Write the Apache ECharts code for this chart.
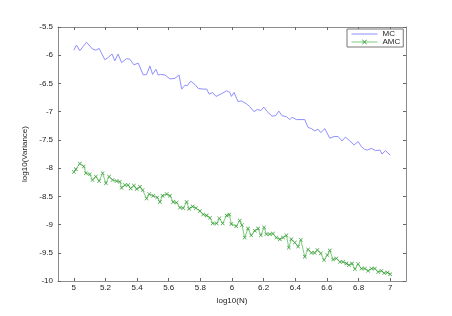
<!DOCTYPE html>
<html><head><meta charset="utf-8">
<script src="https://cdn.jsdelivr.net/npm/echarts@6/dist/echarts.min.js"></script>
<style>html,body{margin:0;padding:0;background:#fff}#c{width:452px;height:316px}</style>
</head><body><div id="c"></div>
<script>
var seriesNames = ['MC', 'AMC'];
var xTicks = [5, 5.2, 5.4, 5.6, 5.8, 6, 6.2, 6.4, 6.6, 6.8, 7];
var yTicks = [-10, -9.5, -9, -8.5, -8, -7.5, -7, -6.5, -6, -5.5];
var mcN = [5.000,5.017,5.038,5.080,5.118,5.139,5.160,5.196,5.217,5.242,5.259,5.280,5.302,5.334,5.354,5.380,5.407,5.439,5.460,5.481,5.498,5.519,5.534,5.549,5.576,5.608,5.639,5.665,5.682,5.703,5.717,5.739,5.766,5.787,5.818,5.840,5.856,5.878,5.899,5.935,5.966,5.987,5.996,6.013,6.038,6.059,6.091,6.112,6.139,6.160,6.182,6.201,6.223,6.253,6.277,6.296,6.316,6.344,6.365,6.380,6.407,6.460,6.481,6.502,6.523,6.544,6.561,6.587,6.597,6.618,6.646,6.671,6.696,6.717,6.745,6.772,6.797,6.818,6.840,6.856,6.882,6.907,6.935,6.949,6.970,7.000];
var mcVar = [-5.91,-5.82,-5.92,-5.77,-5.89,-5.91,-5.88,-6.08,-6.04,-5.98,-6.10,-5.98,-6.13,-6.06,-6.07,-6.17,-6.14,-6.35,-6.34,-6.19,-6.34,-6.25,-6.35,-6.34,-6.35,-6.42,-6.41,-6.35,-6.60,-6.53,-6.54,-6.46,-6.52,-6.59,-6.60,-6.60,-6.69,-6.66,-6.73,-6.68,-6.63,-6.66,-6.73,-6.66,-6.82,-6.81,-6.86,-6.91,-7.00,-6.96,-6.98,-6.92,-7.00,-7.08,-7.07,-6.99,-7.07,-7.09,-7.14,-7.10,-7.14,-7.14,-7.28,-7.30,-7.34,-7.31,-7.37,-7.30,-7.27,-7.47,-7.44,-7.44,-7.52,-7.45,-7.52,-7.59,-7.53,-7.62,-7.67,-7.68,-7.65,-7.69,-7.68,-7.75,-7.69,-7.77];
var amcN = [5.000,5.013,5.038,5.063,5.076,5.101,5.118,5.139,5.160,5.182,5.203,5.223,5.245,5.270,5.291,5.302,5.323,5.344,5.359,5.380,5.397,5.418,5.435,5.460,5.477,5.502,5.527,5.544,5.561,5.587,5.608,5.628,5.650,5.671,5.692,5.713,5.729,5.751,5.772,5.797,5.818,5.840,5.861,5.878,5.903,5.920,5.941,5.966,5.983,5.996,6.027,6.049,6.063,6.080,6.101,6.122,6.144,6.165,6.182,6.203,6.217,6.239,6.259,6.280,6.302,6.323,6.344,6.359,6.375,6.397,6.418,6.435,6.460,6.481,6.502,6.523,6.540,6.561,6.582,6.603,6.618,6.639,6.660,6.682,6.703,6.723,6.739,6.759,6.777,6.797,6.818,6.840,6.861,6.882,6.903,6.924,6.945,6.962,6.983,7.000];
var amcVar = [-8.07,-8.02,-7.92,-7.97,-8.09,-8.11,-8.21,-8.15,-8.23,-8.09,-8.27,-8.15,-8.21,-8.23,-8.24,-8.35,-8.30,-8.30,-8.36,-8.31,-8.37,-8.33,-8.39,-8.54,-8.46,-8.49,-8.52,-8.60,-8.49,-8.46,-8.49,-8.60,-8.61,-8.70,-8.71,-8.60,-8.72,-8.68,-8.71,-8.76,-8.82,-8.84,-8.88,-8.98,-8.98,-8.89,-8.98,-8.84,-8.82,-8.99,-9.03,-8.93,-9.01,-9.23,-9.07,-9.19,-9.11,-9.07,-9.19,-9.05,-9.17,-9.17,-9.16,-9.23,-9.26,-9.23,-9.19,-9.41,-9.26,-9.32,-9.39,-9.27,-9.57,-9.44,-9.50,-9.50,-9.45,-9.51,-9.63,-9.54,-9.46,-9.62,-9.60,-9.66,-9.66,-9.69,-9.72,-9.69,-9.79,-9.70,-9.78,-9.78,-9.82,-9.78,-9.78,-9.84,-9.82,-9.86,-9.85,-9.88];

function pairs(xs, ys){ return xs.map(function(x,i){ return [x, ys[i]]; }); }
var xSym = 'path://M0,1L1,0L5,4L9,0L10,1L6,5L10,9L9,10L5,6L1,10L0,9L4,5Z';
var axisGray = '#8c8c8c';
var ff = 'Liberation Sans, Arial, sans-serif';

var chart = echarts.init(document.getElementById('c'), null, {renderer:'canvas'});
function xAx(pos, show){
  return {type:'value', position:pos, min:4.9, max:7.1,
    axisLine:{show:true, onZero:false, lineStyle:{color:axisGray, width:1}},
    axisTick:{show:true, inside:true, length:3, customValues:xTicks, lineStyle:{color:'#666'}},
    axisLabel:{show:show, customValues:xTicks, margin:3, fontFamily:ff, fontSize:8, color:'#222'},
    splitLine:{show:false},
    name: show ? 'log10(N)' : '', nameLocation:'middle', nameGap:10,
    nameTextStyle:{fontFamily:ff, fontSize:8, color:'#222'}};
}
function yAx(pos, show){
  return {type:'value', position:pos, min:-10, max:-5.5, interval:0.5,
    axisLine:{show:true, onZero:false, lineStyle:{color:axisGray, width:1}},
    axisTick:{show:true, inside:true, length:3, lineStyle:{color:'#666'}},
    axisLabel:{show:show, margin:5, fontFamily:ff, fontSize:8, color:'#222',
      formatter:function(v){ return String(Math.round(v*10)/10); }},
    splitLine:{show:false},
    name: show ? 'log10(Variance)' : '', nameLocation:'middle', nameGap:17,
    nameTextStyle:{fontFamily:ff, fontSize:8, color:'#222'}};
}
chart.setOption({
  animation:false,
  backgroundColor:'#fff',
  grid:{left:58, top:27, right:46, bottom:35, containLabel:false},
  xAxis:[xAx('bottom', true), xAx('top', false)],
  yAxis:[yAx('left', true), yAx('right', false)],
  legend:{
    left:347, top:29, orient:'vertical', itemGap:0, padding:[1,3,1,4],
    itemWidth:26, itemHeight:6,
    borderColor:'#777', borderWidth:1, backgroundColor:'#fff',
    lineStyle:{width:1},
    textStyle:{fontFamily:ff, fontSize:8, color:'#222', padding:[0,0,0,0]},
    data:[{name:seriesNames[0], itemStyle:{opacity:0}}, {name:seriesNames[1]}]
  },
  series:[
    {name:seriesNames[0], type:'line', data:pairs(mcN, mcVar), symbol:'none',
      lineStyle:{color:'#8f8fff', width:1}, itemStyle:{color:'#8f8fff'}},
    {name:seriesNames[1], type:'line', data:pairs(amcN, amcVar), symbol:xSym, symbolSize:4, showAllSymbol:true,
      lineStyle:{color:'#7fcc7f', width:1}, itemStyle:{color:'#2f9a2f'}}
  ]
});
</script></body></html>
